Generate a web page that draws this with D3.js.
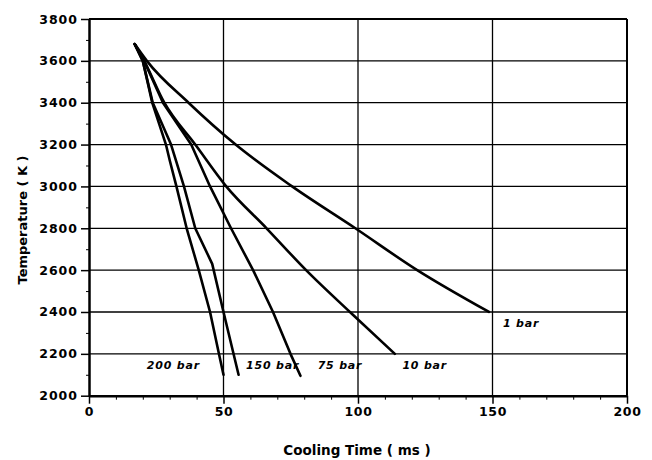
<!DOCTYPE html>
<html><head><meta charset="utf-8">
<script src="https://cdn.jsdelivr.net/npm/d3@7"></script>
<style>body{margin:0;background:#fff}svg{display:block}</style>
</head><body><svg id="c" width="652" height="460"></svg>
<script>
// ---- data ----
const xTicks = [0, 50, 100, 150, 200];
const yTicks = [2000, 2200, 2400, 2600, 2800, 3000, 3200, 3400, 3600, 3800];
const seriesNames = ["1 bar", "10 bar", "75 bar", "150 bar", "200 bar"];
const bar1   = [[17,3680],[21.5,3600],[37,3400],[54.5,3200],[75.5,3000],[99,2800],[122,2600],[148.7,2400]];
const bar10  = [[17,3680],[20.5,3600],[28,3400],[39.5,3200],[51,3000],[66,2800],[80.7,2600],[97,2400],[113.7,2200]];
const bar75  = [[17,3680],[20.5,3600],[27.5,3400],[38,3200],[45,3000],[52.8,2800],[61,2600],[68.4,2400],[74.9,2200],[78.6,2095]];
const bar150 = [[17,3680],[20,3600],[23.7,3400],[30.5,3200],[35.3,3000],[39.5,2800],[45.8,2630],[50,2400],[55.6,2100]];
const bar200 = [[17,3680],[20,3600],[23.5,3400],[28.6,3200],[30,3125],[32.5,3000],[36.3,2800],[40.8,2600],[45,2400],[48.3,2200],[50,2100]];
const labelT = [153.9, 116.5, 85, 58.4, 21.5];        // label anchor time (ms)
const labelK = [2330, 2128, 2128, 2128, 2128];        // label baseline temperature (K)

// ---- drawing ----
const svg = d3.select("#c");
const x = d3.scaleLinear().domain([0, 200]).range([89, 627]);
const y = d3.scaleLinear().domain([2000, 3800]).range([395.7, 19]);
const FONT = "'DejaVu Sans', sans-serif";

// grid
svg.append("g").selectAll("line").data(yTicks.filter(d => d > 2000)).join("line")
  .attr("x1", x(0)).attr("x2", x(200)).attr("y1", d => y(d)).attr("y2", d => y(d))
  .attr("stroke", "#000").attr("stroke-width", d => d === 3800 ? 2 : 1.3);
svg.append("g").selectAll("line").data(xTicks.filter(d => d > 0)).join("line")
  .attr("y1", y(2000)).attr("y2", y(3800)).attr("x1", d => x(d)).attr("x2", d => x(d))
  .attr("stroke", "#000").attr("stroke-width", d => d === 200 ? 2 : 1.3);

// axes
const xAxis = d3.axisBottom(x).tickValues(xTicks).tickFormat(d3.format("d")).tickSize(8).tickPadding(3).tickSizeOuter(0);
const gx = svg.append("g").attr("transform", `translate(0,${y(2000)})`).call(xAxis);
gx.select(".domain").attr("stroke-width", 2.5);
gx.selectAll(".tick line").attr("stroke-width", 1.5);
gx.selectAll("text").attr("font-family", FONT).attr("font-weight", "bold").attr("font-size", 12.5)
  .attr("letter-spacing", "0.6px").attr("fill", "#000");
const gxm = svg.append("g").attr("transform", `translate(0,${y(2000)})`)
  .call(d3.axisBottom(x).tickValues(d3.range(10, 200, 10).filter(d => d % 50)).tickSize(4).tickFormat(""));
gxm.select(".domain").remove();

const yAxis = d3.axisLeft(y).tickValues(yTicks).tickFormat(d3.format("d")).tickSize(8).tickPadding(3).tickSizeOuter(0);
const gy = svg.append("g").attr("transform", `translate(${x(0)},0)`).call(yAxis);
gy.select(".domain").attr("stroke-width", 2.5);
gy.selectAll(".tick line").attr("stroke-width", 1.5);
gy.selectAll("text").attr("font-family", FONT).attr("font-weight", "bold").attr("font-size", 12.5)
  .attr("letter-spacing", "1px").attr("fill", "#000");
const gym = svg.append("g").attr("transform", `translate(${x(0)},0)`)
  .call(d3.axisLeft(y).tickValues(d3.range(2100, 3800, 200)).tickSize(3).tickFormat(""));
gym.select(".domain").remove();

// curves
const smooth = d3.line().curve(d3.curveMonotoneX).x(d => x(d[0])).y(d => y(d[1]));
const straight = d3.line().x(d => x(d[0])).y(d => y(d[1]));
const allSeries = [bar1, bar10, bar75, bar150, bar200];
svg.append("g").selectAll("path").data(allSeries).join("path")
  .attr("d", (d, i) => (i < 2 ? smooth : straight)(d)).attr("fill", "none").attr("stroke", "#000")
  .attr("stroke-width", 2.6).attr("stroke-linejoin", "round").attr("stroke-linecap", "round");

// labels
svg.append("g").selectAll("text").data(seriesNames).join("text")
  .attr("x", (d, i) => x(labelT[i])).attr("y", (d, i) => y(labelK[i]))
  .attr("font-family", FONT).attr("font-weight", "bold").attr("font-style", "italic")
  .attr("font-size", 11).attr("letter-spacing", "0.8px").text(d => d);

// axis titles
svg.append("text").attr("x", 357).attr("y", 455).attr("text-anchor", "middle")
  .attr("font-family", FONT).attr("font-weight", "bold").attr("font-size", 13.5)
  .text("Cooling Time ( ms )");
svg.append("text").attr("transform", "translate(27,220) rotate(-90)").attr("text-anchor", "middle")
  .attr("font-family", FONT).attr("font-weight", "bold").attr("font-size", 13)
  .text("Temperature ( K )");
</script>
</body></html>
